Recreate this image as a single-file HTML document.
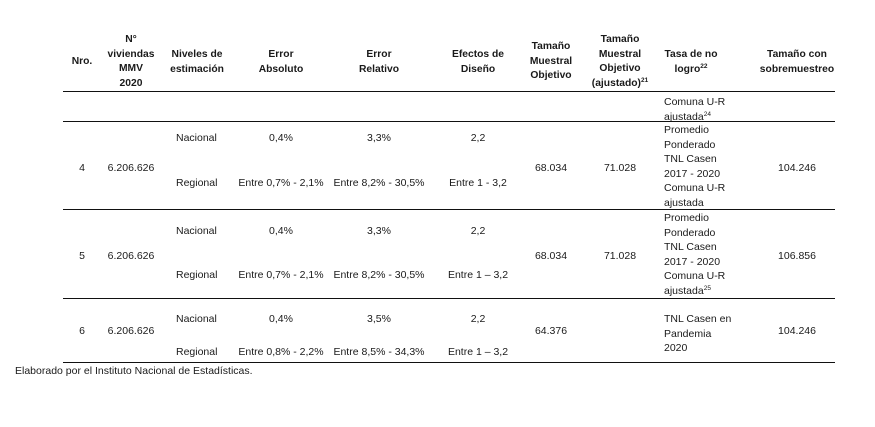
<!DOCTYPE html>
<html><head><meta charset="utf-8">
<style>
body{margin:0;background:#fff;}
#t{position:relative;width:875px;height:427px;overflow:hidden;font-family:"Liberation Sans",Arial,sans-serif;font-size:10.5px;color:#1a1a1a;}
#t div{position:absolute;line-height:14.6px;white-space:nowrap;}
.c{transform:translateX(-50%);text-align:center;}
.b{font-weight:bold;font-size:10.3px;}
.ln{height:1.3px;background:#111;left:63px;width:772px;}
sup{font-size:6.5px;line-height:0;vertical-align:4px;}
</style></head><body>
<div id="t">
<div class="c b" style="left:82px;top:55px">Nro.</div>
<div class="c b" style="left:131px;top:33px">N°<br>viviendas<br>MMV<br>2020</div>
<div class="c b" style="left:197px;top:48px">Niveles de<br>estimación</div>
<div class="c b" style="left:281px;top:48px">Error<br>Absoluto</div>
<div class="c b" style="left:379px;top:48px">Error<br>Relativo</div>
<div class="c b" style="left:478px;top:48px">Efectos de<br>Diseño</div>
<div class="c b" style="left:551px;top:40px">Tamaño<br>Muestral<br>Objetivo</div>
<div class="c b" style="left:620px;top:33px">Tamaño<br>Muestral<br>Objetivo<br>(ajustado)<sup>21</sup></div>
<div class="c b" style="left:691px;top:48px">Tasa de no<br>logro<sup>22</sup></div>
<div class="c b" style="left:797px;top:48px">Tamaño con<br>sobremuestreo</div>

<div class="ln" style="top:91px"></div>
<div style="left:664px;top:95px">Comuna U-R<br>ajustada<sup>24</sup></div>
<div class="ln" style="top:121px"></div>

<div style="left:176px;top:131px">Nacional</div>
<div style="left:176px;top:176px">Regional</div>
<div class="c" style="left:281px;top:131px">0,4%</div>
<div class="c" style="left:379px;top:131px">3,3%</div>
<div class="c" style="left:478px;top:131px">2,2</div>
<div class="c" style="left:281px;top:176px">Entre 0,7% - 2,1%</div>
<div class="c" style="left:379px;top:176px">Entre 8,2% - 30,5%</div>
<div class="c" style="left:478px;top:176px">Entre 1 - 3,2</div>
<div class="c" style="left:82px;top:161px">4</div>
<div class="c" style="left:131px;top:161px">6.206.626</div>
<div class="c" style="left:551px;top:161px">68.034</div>
<div class="c" style="left:620px;top:161px">71.028</div>
<div class="c" style="left:797px;top:161px">104.246</div>
<div style="left:664px;top:123px">Promedio<br>Ponderado<br>TNL Casen<br>2017 - 2020<br>Comuna U-R<br>ajustada</div>
<div class="ln" style="top:209px"></div>

<div style="left:176px;top:224px">Nacional</div>
<div style="left:176px;top:268px">Regional</div>
<div class="c" style="left:281px;top:224px">0,4%</div>
<div class="c" style="left:379px;top:224px">3,3%</div>
<div class="c" style="left:478px;top:224px">2,2</div>
<div class="c" style="left:281px;top:268px">Entre 0,7% - 2,1%</div>
<div class="c" style="left:379px;top:268px">Entre 8,2% - 30,5%</div>
<div class="c" style="left:478px;top:268px">Entre 1 – 3,2</div>
<div class="c" style="left:82px;top:249px">5</div>
<div class="c" style="left:131px;top:249px">6.206.626</div>
<div class="c" style="left:551px;top:249px">68.034</div>
<div class="c" style="left:620px;top:249px">71.028</div>
<div class="c" style="left:797px;top:249px">106.856</div>
<div style="left:664px;top:211px">Promedio<br>Ponderado<br>TNL Casen<br>2017 - 2020<br>Comuna U-R<br>ajustada<sup>25</sup></div>
<div class="ln" style="top:298px"></div>

<div style="left:176px;top:312px">Nacional</div>
<div style="left:176px;top:345px">Regional</div>
<div class="c" style="left:281px;top:312px">0,4%</div>
<div class="c" style="left:379px;top:312px">3,5%</div>
<div class="c" style="left:478px;top:312px">2,2</div>
<div class="c" style="left:281px;top:345px">Entre 0,8% - 2,2%</div>
<div class="c" style="left:379px;top:345px">Entre 8,5% - 34,3%</div>
<div class="c" style="left:478px;top:345px">Entre 1 – 3,2</div>
<div class="c" style="left:82px;top:324px">6</div>
<div class="c" style="left:131px;top:324px">6.206.626</div>
<div class="c" style="left:551px;top:324px">64.376</div>
<div class="c" style="left:797px;top:324px">104.246</div>
<div style="left:664px;top:312px">TNL Casen en<br>Pandemia<br>2020</div>
<div class="ln" style="top:362px"></div>

<div style="left:15px;top:364px">Elaborado por el Instituto Nacional de Estadísticas.</div>
</div>
</body></html>
